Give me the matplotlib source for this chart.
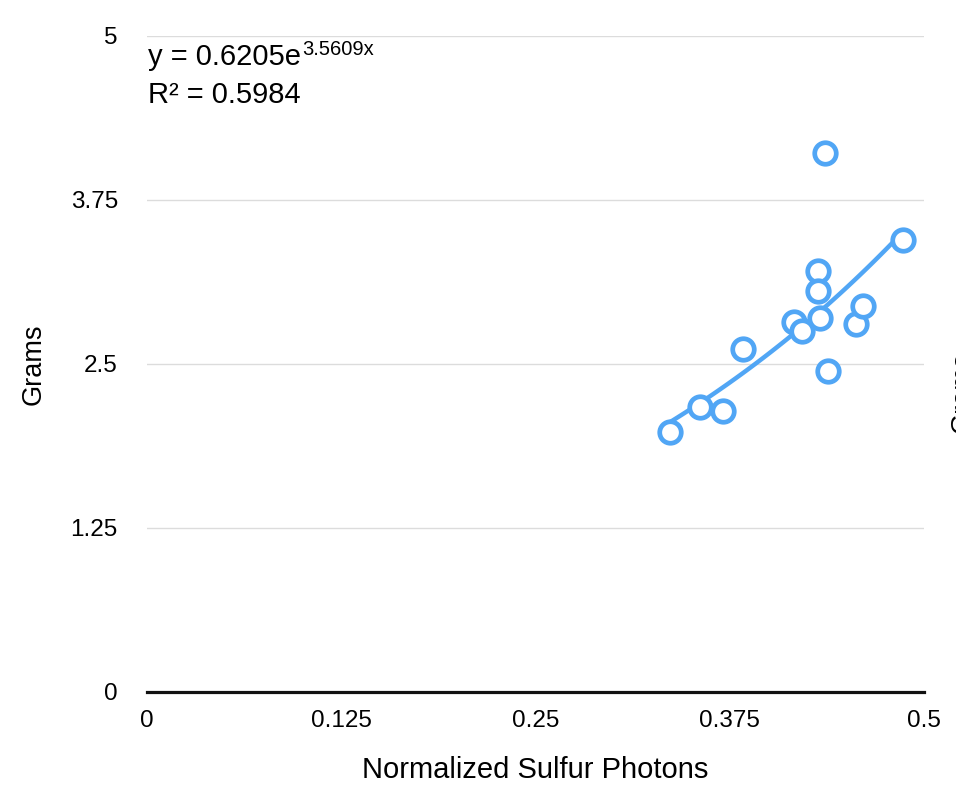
import numpy as np
import matplotlib
matplotlib.use("Agg")
import matplotlib.pyplot as plt

plt.rcParams['font.family'] = ['Liberation Sans', 'DejaVu Sans']

# data
photons = [0.3367, 0.3559, 0.3709, 0.3833, 0.4166, 0.4217, 0.4316,
           0.4320, 0.4333, 0.4365, 0.4380, 0.4562, 0.4610, 0.4867]
grams = [1.984, 2.175, 2.142, 2.614, 2.823, 2.752, 3.209,
         3.056, 2.853, 4.106, 2.449, 2.805, 2.944, 3.445]

# exponential trendline y = a * exp(b x)
fit_a = 0.6205
fit_b = 3.5609
fit_r2 = 0.5984

x_ticks = [0, 0.125, 0.25, 0.375, 0.5]
x_tick_labels = ["0", "0.125", "0.25", "0.375", "0.5"]
y_ticks = [0, 1.25, 2.5, 3.75, 5]
y_tick_labels = ["0", "1.25", "2.5", "3.75", "5"]

W, H = 956, 799
blue = '#51a6f5'

fig = plt.figure(figsize=(W / 100, H / 100), dpi=100)
ax = fig.add_axes([147 / W, 1 - 692 / H, (924 - 147) / W, (692 - 36) / H])

ax.set_xlim(0, 0.5)
ax.set_ylim(0, 5)

# gridlines
for yv in y_ticks[1:]:
    ax.axhline(yv, color='#dcdcdc', lw=1.0, zorder=1)

# trendline
xs = np.linspace(min(photons), max(photons), 100)
ax.plot(xs, fit_a * np.exp(fit_b * xs), color=blue, lw=3.2,
        solid_capstyle='round', zorder=2)

# points
ax.plot(photons, grams, 'o', ms=15.5, mfc='white', mec=blue, mew=3.4,
        zorder=3, clip_on=False)

for s in ['top', 'right', 'left']:
    ax.spines[s].set_visible(False)
ax.spines['bottom'].set_linewidth(2.3)
ax.spines['bottom'].set_color('#111111')

ax.set_xticks(x_ticks)
ax.set_xticklabels(x_tick_labels)
ax.set_yticks(y_ticks)
ax.set_yticklabels(y_tick_labels)
ax.tick_params(axis='both', length=0, labelsize=17.5)
ax.tick_params(axis='x', pad=13)
ax.tick_params(axis='y', pad=21)

ax.set_xlabel("Normalized Sulfur Photons", fontsize=21, labelpad=17)
ax.set_ylabel("Grams", fontsize=19.5, labelpad=17)

# trendline equation
fig.text(148 / W, 1 - 65 / H, "y = 0.6205e", fontsize=21, va='baseline', ha='left')
fig.text(302 / W, 1 - 55 / H, "3.5609x", fontsize=14.5, va='baseline', ha='left')
fig.text(148 / W, 1 - 103 / H, "R\u00b2 = %.4f" % fit_r2, fontsize=21,
         va='baseline', ha='left')

# clipped label of the neighbouring chart, cut off at the right edge as in the source
fig.text(950 / W, 1 - 392 / H, "Grams", fontsize=19.5, rotation=90,
         ha='left', va='center')

fig.savefig("out.png", dpi=100)
